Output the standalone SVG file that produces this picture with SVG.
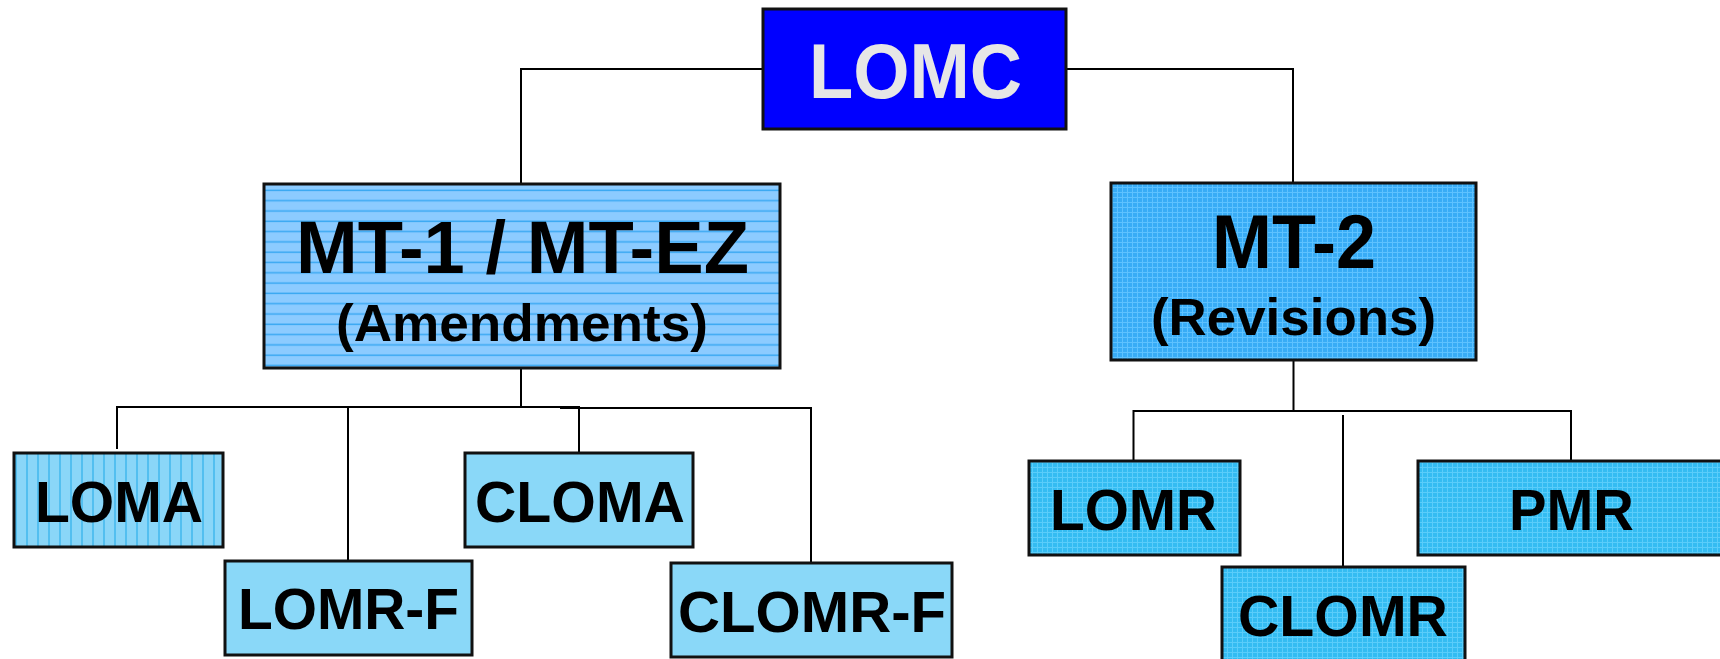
<svg xmlns="http://www.w3.org/2000/svg" width="1720" height="659" viewBox="0 0 1720 659">
<style>
.box{stroke:#111;stroke-width:3}
.t{font-family:"Liberation Sans",Arial,sans-serif;font-weight:bold;fill:#000;text-anchor:middle}
.w{fill:#E6E6E6}
.c{fill:none;stroke:#000;stroke-width:2}
</style>
<defs>
<pattern id="stripeH" width="10" height="10.3" patternUnits="userSpaceOnUse">
<rect width="10" height="10.3" fill="#8CCBFF"/>
<line x1="0" y1="5" x2="10" y2="5" stroke="#3AA8F2" stroke-width="1.5"/>
</pattern>
<pattern id="stripeV" width="11" height="10" patternUnits="userSpaceOnUse">
<rect width="11" height="10" fill="#8AD6F8"/>
<line x1="5" y1="0" x2="5" y2="10" stroke="#40B8EE" stroke-width="1.5"/>
</pattern>
<pattern id="gridA" width="5" height="5" patternUnits="userSpaceOnUse">
<rect width="5" height="5" fill="#38ACF6"/>
<path d="M0 2.5H5M2.5 0V5" stroke="#5EC2FF" stroke-width="1"/>
</pattern>
<pattern id="gridB" width="5" height="5" patternUnits="userSpaceOnUse">
<rect width="5" height="5" fill="#34BCF2"/>
<path d="M0 2.5H5M2.5 0V5" stroke="#5ACDFA" stroke-width="1"/>
</pattern>
</defs>
<rect width="1720" height="659" fill="#fff"/>
<g id="connectors">
<path class="c" d="M763 69H521V184"/>
<path class="c" d="M1066 69H1293V183"/>
<path class="c" d="M521 368V407"/>
<path class="c" d="M117 449V407H580"/>
<path class="c" d="M560 408H811V563"/>
<path class="c" d="M348 407V561"/>
<path class="c" d="M579 407V453"/>
<path class="c" d="M1293.5 360V411"/>
<path class="c" d="M1133.5 461V411H1571V461"/>
<path class="c" d="M1343 415V567"/>
</g>
<g id="lomc">
<rect class="box" x="763" y="9" width="303" height="120" fill="#0000FF"/>
<text class="t w" x="915.5" y="98" font-size="78" textLength="213" lengthAdjust="spacingAndGlyphs">LOMC</text>
</g>
<g id="mt1">
<rect class="box" x="264" y="184" width="516" height="184" fill="url(#stripeH)"/>
<text class="t" x="522.5" y="273" font-size="75" textLength="453" lengthAdjust="spacingAndGlyphs">MT-1 / MT-EZ</text>
<text class="t" x="522" y="341" font-size="52" textLength="372" lengthAdjust="spacingAndGlyphs">(Amendments)</text>
</g>
<g id="mt2">
<rect class="box" x="1111" y="183" width="365" height="177" fill="url(#gridA)"/>
<text class="t" x="1294" y="268" font-size="76" textLength="164" lengthAdjust="spacingAndGlyphs">MT-2</text>
<text class="t" x="1293.5" y="335" font-size="52" textLength="285" lengthAdjust="spacingAndGlyphs">(Revisions)</text>
</g>
<g id="loma">
<rect class="box" x="14" y="453" width="209" height="94" fill="url(#stripeV)"/>
<text class="t" x="119" y="522" font-size="58" textLength="168" lengthAdjust="spacingAndGlyphs">LOMA</text>
</g>
<g id="lomrf">
<rect class="box" x="225" y="561" width="247" height="94" fill="#8AD8F8"/>
<text class="t" x="348.5" y="629" font-size="58" textLength="221" lengthAdjust="spacingAndGlyphs">LOMR-F</text>
</g>
<g id="cloma">
<rect class="box" x="465" y="453" width="228" height="94" fill="#8AD8F8"/>
<text class="t" x="580" y="522" font-size="58" textLength="210" lengthAdjust="spacingAndGlyphs">CLOMA</text>
</g>
<g id="clomrf">
<rect class="box" x="671" y="563" width="281" height="94" fill="#8AD8F8"/>
<text class="t" x="812" y="632" font-size="58" textLength="268" lengthAdjust="spacingAndGlyphs">CLOMR-F</text>
</g>
<g id="lomr">
<rect class="box" x="1029" y="461" width="211" height="94" fill="url(#gridB)"/>
<text class="t" x="1133.5" y="530" font-size="58" textLength="167" lengthAdjust="spacingAndGlyphs">LOMR</text>
</g>
<g id="clomr">
<rect class="box" x="1222" y="567" width="243" height="110" fill="url(#gridB)"/>
<text class="t" x="1343" y="636" font-size="58" textLength="210" lengthAdjust="spacingAndGlyphs">CLOMR</text>
</g>
<g id="pmr">
<rect class="box" x="1418" y="461" width="320" height="94" fill="url(#gridB)"/>
<text class="t" x="1571.5" y="530" font-size="58" textLength="125" lengthAdjust="spacingAndGlyphs">PMR</text>
</g>
</svg>
